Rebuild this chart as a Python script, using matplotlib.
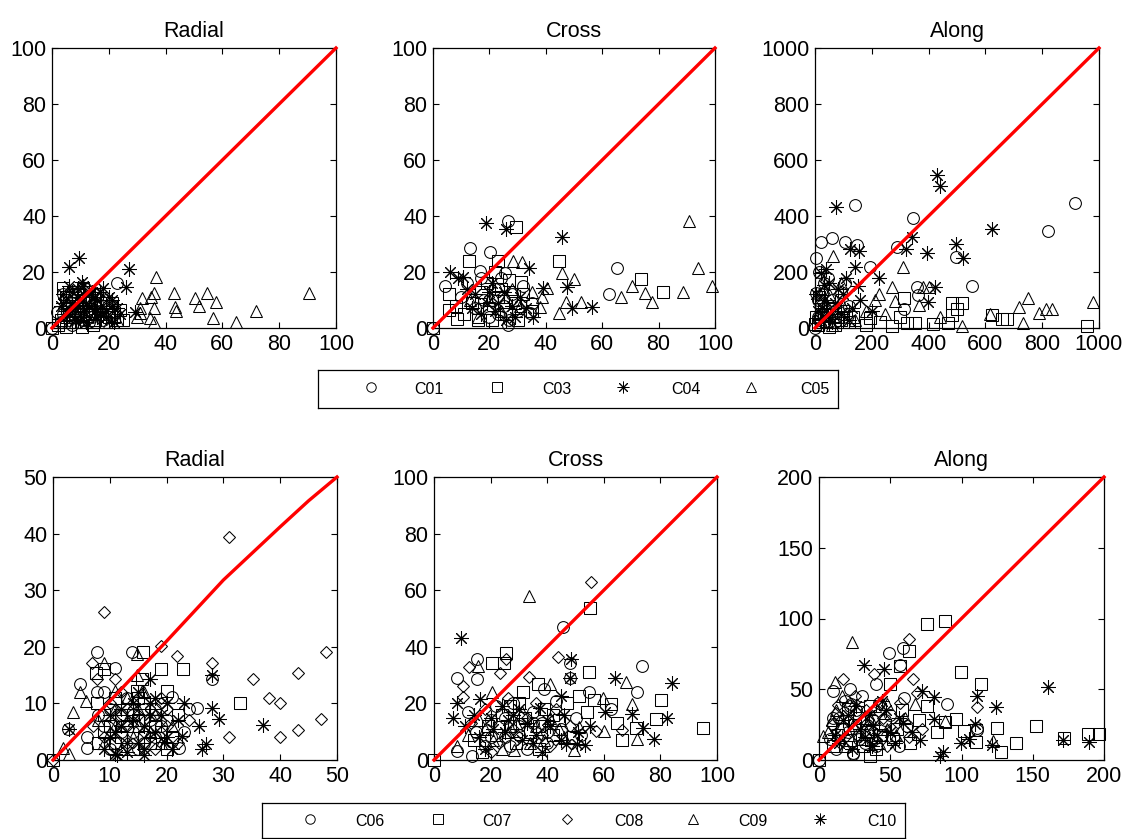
import matplotlib
matplotlib.use('Agg')
import matplotlib.pyplot as plt

plt.rcParams['font.family'] = ['Liberation Sans', 'DejaVu Sans']

W, H = 1131, 839

# ---- top row: C01, C03, C04, C05 ----
# Radial
tl_c01_x = [0, 1.6, 22.8, 5, 7, 9, 11, 12, 14, 16, 18, 20, 8, 3, 6, 10, 13, 15, 17, 21, 4,
            4, 6, 8, 10, 12, 14, 16, 19, 11, 7]
tl_c01_y = [0, 5.8, 16.2, 10, 4, 7, 3, 11, 6, 9, 3, 5, 13, 2, 8, 9, 2, 12, 6, 8, 5,
            12, 3, 10, 5, 14, 4, 7, 10, 7, 1]
tl_c03_x = [0, 4, 5, 10.5, 14.4, 24, 22, 3, 6, 8, 9, 12, 15, 17, 19, 11, 7, 13, 20, 16, 18, 23, 2,
            5, 7, 9, 11, 13, 15, 17, 21, 25, 6]
tl_c03_y = [0, 14.2, 0.3, 0.5, 1, 6.4, 4, 3, 9, 4, 12, 6, 3, 8, 2, 10, 7, 11, 4, 12, 9, 3, 1,
            11, 2, 6, 14, 5, 9, 5, 9, 3, 5]
tl_c04_x = [6.1, 9.4, 27.2, 26, 10.4, 18, 29.2, 3, 5, 7, 8, 9, 11, 12, 13, 15, 16, 19, 21, 6, 4, 14, 10, 20, 22, 17, 24,
            5, 7, 9, 11, 13, 15, 17, 19, 21, 23, 8, 12, 16, 4, 6]
tl_c04_y = [21.7, 24.9, 21, 14.8, 16.5, 14.2, 5.8, 8, 10, 13, 7, 11, 15, 9, 12, 6, 10, 4, 8, 5, 12, 13, 3, 11, 2, 7, 5,
            6, 9, 14, 6, 8, 11, 13, 6, 10, 7, 3, 2, 4, 9, 15]
tl_c05_x = [36.6, 35.9, 43, 54.5, 90.4, 31.6, 35, 50.5, 57.7, 51.9, 43.2, 35.9, 31, 43.7, 71.8, 31, 29.8,
            34.5, 56.6, 64.8, 35.9, 5, 8, 12, 15, 18, 20, 23, 10, 6, 14]
tl_c05_y = [18.3, 12.6, 12.6, 12.6, 12.6, 10.6, 11.2, 10.6, 9.4, 7.9, 7.4, 7, 7, 6.1, 6.1, 5.2, 3.8,
            3.5, 3.5, 2, 2, 4, 2, 5, 3, 6, 2, 3, 8, 6, 9]

# Cross
tm_c01_x = [26.7, 13.1, 20.2, 65.4, 62.4, 25.5, 4.3, 16.5, 34.4, 26.7, 18, 22, 25, 28, 30, 15, 12, 20, 32, 24, 35, 10, 0,
            17, 23, 27, 21]
tm_c01_y = [38.3, 28.5, 27.3, 21.3, 12.1, 19.5, 15, 20.4, 5.2, 1.1, 10, 14, 8, 12, 6, 7, 16, 4, 15, 18, 9, 11, 0,
            18, 5, 3, 10]
tm_c03_x = [29.4, 12.8, 44.8, 22.9, 73.6, 81.4, 5.8, 31.2, 5.8, 8.6, 0, 14, 17, 20, 23, 26, 29, 19, 32, 11, 8, 24, 27, 21,
            16, 22, 30, 35]
tm_c03_y = [36.2, 23.9, 23.9, 23.9, 17.4, 13, 12.1, 16.5, 6.4, 3.1, 0, 9, 13, 7, 11, 5, 9, 16, 12, 5, 8, 14, 17, 3,
            3, 20, 3, 6]
tm_c04_x = [18.8, 26, 45.6, 34, 38.9, 47.6, 6, 10.8, 49.3, 56.3, 35.5, 15, 19, 22, 25, 28, 31, 17, 12, 9, 26, 33, 21,
            14, 23, 29, 20]
tm_c04_y = [37.4, 35.3, 32.6, 21.3, 14.2, 14.5, 20.1, 18.3, 7, 7.4, 4, 12, 9, 6, 13, 8, 11, 5, 14, 18, 3, 7, 16,
            7, 9, 4, 13]
tm_c05_x = [90.7, 93.9, 98.9, 88.5, 70.6, 75, 77.7, 66.7, 28.5, 31.4, 45.6, 50, 40.3, 38.5, 47, 52.6, 44.6, 38,
            20, 24, 28, 16, 31, 26, 35, 13]
tm_c05_y = [38.3, 21.3, 15, 13, 15, 12.4, 9.4, 11, 23.9, 23.5, 19.5, 17.4, 14.2, 11.2, 9.4, 9.4, 5.5, 7.6,
            10, 6, 14, 4, 8, 11, 13, 10]

# Along
tr_c01_x = [915, 822, 141, 346, 20, 59, 106, 149, 288, 497, 194, 106, 552, 359, 363, 5, 313,
            10, 20, 30, 15, 40, 60, 80, 50, 5, 25, 90, 120, 0, 10, 35, 45, 70, 100, 15]
tr_c01_y = [445, 348, 439, 392, 308, 320, 308, 296, 288, 252, 217, 162, 150, 145, 118, 125, 67,
            40, 80, 160, 200, 50, 100, 60, 20, 250, 120, 130, 80, 0, 100, 60, 180, 20, 40, 30]
tr_c03_x = [313, 481, 516, 499, 481, 623, 658, 676, 957, 417, 470, 271, 323, 352, 299, 194, 135, 82, 0,
            10, 30, 60, 90, 15, 120, 50, 180, 230, 20, 40, 70, 100, 5]
tr_c03_y = [106, 90, 90, 67, 46, 46, 31, 31, 7, 14, 19, 7, 17, 19, 40, 35, 40, 40, 14,
            10, 50, 70, 30, 110, 20, 5, 10, 20, 80, 25, 10, 60, 40]
tr_c04_x = [428, 441, 74, 623, 496, 522, 393, 320, 341, 123, 155, 20, 141, 224, 423, 399, 32,
            10, 30, 50, 70, 100, 130, 20, 40, 90, 110, 160, 200, 60, 5, 25, 45, 80, 120, 150]
tr_c04_y = [546, 507, 432, 354, 300, 249, 269, 281, 324, 281, 276, 197, 217, 178, 145, 94, 152,
            60, 100, 160, 90, 120, 70, 30, 210, 50, 180, 100, 60, 20, 120, 70, 40, 140, 30, 150]
tr_c05_x = [65, 311, 270, 381, 403, 224, 282, 367, 751, 720, 789, 815, 836, 980, 731, 517, 616, 246, 440,
            20, 40, 70, 100, 140, 180, 210, 30, 10, 50, 60, 90]
tr_c05_y = [257, 217, 147, 147, 147, 121, 98, 82, 106, 74, 55, 67, 67, 92, 19, 7, 50, 50, 40,
            20, 90, 40, 80, 30, 60, 100, 140, 50, 120, 10, 160]

# ---- bottom row: C06, C07, C08, C09, C10 ----
# Radial
bl_c06_x = [7.7, 13.9, 10.9, 4.8, 28, 7.7, 9, 25.3, 21, 2.7, 5.9, 22.1,
            9, 11, 12, 14, 16, 18, 20, 13, 10, 15, 17, 6, 23, 24, 8, 10, 12, 14, 16, 18, 19]
bl_c06_y = [19.1, 19.1, 16.3, 13.4, 14.3, 12, 12, 9.1, 11.2, 5.5, 2.2, 2.2,
            6, 3, 8, 5, 9, 4, 7, 11, 9, 2, 7, 4, 5, 9, 8, 2, 5, 8, 3, 9, 6]
bl_c07_x = [15.8, 19, 22.9, 32.9, 8.9, 7.6, 15.7, 20, 14.8, 7.7,
            8, 10, 12, 13, 15, 17, 19, 11, 14, 16, 18, 21, 9, 22, 0, 9, 11, 13, 14, 16, 18, 20, 12, 15]
bl_c07_y = [19.1, 16.1, 16.1, 10.1, 16.1, 15.4, 14.3, 12.2, 12.2, 10.1,
            3, 6, 4, 9, 7, 3, 5, 11, 2, 10, 8, 4, 8, 8, 0, 5, 3, 6, 8, 4, 6, 2, 8, 11]
bl_c08_x = [31, 9, 19, 48, 21.9, 28, 43.2, 6.8, 10.9, 35.2, 38, 40, 47.2, 43.2, 40, 31, 19, 20, 7.7, 0,
            9, 11, 13, 14, 16, 18, 20, 12, 7, 22, 24, 10, 13, 15, 17, 19]
bl_c08_y = [39.4, 26.1, 20.1, 19.1, 18.3, 17.2, 15.3, 17.2, 14.3, 14.3, 11, 10.1, 7.2, 5.3, 4, 4, 10.1, 6, 14.3, 0,
            4, 7, 3, 10, 5, 2, 9, 12, 6, 3, 7, 10, 6, 8, 4, 11]
bl_c09_x = [14.8, 8.9, 4.8, 5.8, 3.6, 1.8, 2.9, 10.9, 15.7, 14.8,
            10, 12, 13, 15, 17, 19, 11, 16, 8, 21, 14, 9, 11, 13, 15, 18]
bl_c09_y = [18.8, 17.2, 12, 10.4, 8.4, 2.2, 1, 12.2, 12.2, 15.1,
            5, 2, 7, 9, 5, 3, 9, 12, 7, 6, 4, 3, 6, 11, 6, 8]
bl_c10_x = [17.1, 28, 28, 29.2, 37, 26.9, 26.3, 25.7, 23, 2.9, 22.7, 19.5, 11.2, 16,
            9, 11, 12, 14, 15, 16, 18, 19, 20, 13, 10, 17, 21, 22, 10, 12, 13, 14, 16, 17, 18, 20, 15, 11]
bl_c10_y = [14.3, 15.1, 9.1, 7.2, 6.2, 2.8, 1.9, 6, 10.1, 5.5, 4.3, 3.1, 0.8, 0.8,
            2, 5, 9, 7, 3, 6, 11, 8, 4, 1.5, 8, 10, 2, 7, 4, 6, 3, 10, 2, 8, 5, 10, 12, 1]

# Cross
bm_c06_x = [45.6, 73.6, 71.6, 15.1, 15.1, 8.2, 54.7, 39, 8, 13.4, 48, 48, 62.4,
            15, 20, 25, 30, 35, 40, 45, 50, 18, 28, 38, 22, 33, 43, 52, 12, 25, 30, 35, 40, 20, 27]
bm_c06_y = [47, 33.2, 24.1, 35.8, 28.5, 28.8, 24.1, 25.2, 3.3, 1.5, 28.8, 34.4, 18,
            10, 14, 8, 12, 17, 6, 11, 15, 5, 20, 13, 19, 4, 21, 9, 17, 15, 9, 13, 10, 8, 5]
bm_c07_x = [55.1, 25.5, 20.5, 24.6, 54.7, 36.6, 80.1, 94.9, 78.4, 66.6, 64.5, 62.4, 56.5, 51.2, 31.4, 71.3, 0,
            14, 19, 24, 29, 34, 39, 44, 49, 27, 37, 47, 17, 32, 54, 42, 22, 27, 37, 42, 30]
bm_c07_y = [53.7, 37.7, 34.4, 34.4, 31.1, 26.8, 21.2, 11.2, 14.4, 7.1, 13.2, 19.7, 21.2, 22.7, 24.1, 11.2, 0,
            7, 12, 16, 6, 10, 18, 14, 8, 19, 4, 20, 3, 15, 17, 9, 9, 12, 12, 16, 20]
bm_c08_x = [55.6, 43.7, 12.2, 33.4, 10.2, 10.2, 23.4, 25.5, 66.6, 57.4,
            13, 18, 23, 28, 33, 38, 43, 48, 26, 20, 36, 41, 30]
bm_c08_y = [62.8, 36.5, 33, 29.5, 26, 22.4, 30.6, 35.8, 10.7, 10.3,
            13, 18, 6, 11, 15, 9, 18, 12, 22, 3, 20, 5, 8]
bm_c09_x = [33.4, 67.7, 69.8, 71.6, 59.8, 20.5, 28.1, 49.6, 51.2, 60, 15.7, 41.1,
            8, 12, 16, 21, 26, 31, 36, 41, 46, 24, 34, 44, 18, 29, 39]
bm_c09_y = [57.9, 27.6, 19.7, 7.4, 22, 24.1, 3.6, 3.6, 11.5, 10.3, 33.2, 26.8,
            5, 9, 14, 7, 10, 17, 12, 15, 8, 4, 6, 11, 11, 13, 7]
bm_c10_x = [9.5, 48.5, 48.2, 63.8, 84.2, 82.3, 77.8, 74, 69.8, 53.5, 50.6, 8.3, 6.6, 16.3, 37.6, 44.7, 60.6, 46.5,
            11, 16, 21, 26, 31, 36, 41, 46, 51, 18, 28, 38, 24, 33, 55, 14, 20, 25, 30, 35, 40, 45]
bm_c10_y = [43.2, 35.8, 29.1, 29.1, 27.1, 15, 7.4, 11.2, 16.2, 5.3, 5.6, 20.3, 15, 21.7, 18.2, 22.7, 16.8, 5.6,
            12, 8, 11, 14, 7, 9, 12, 16, 10, 4, 16, 3, 19, 13, 12, 16, 15, 10, 18, 6, 14, 7]

# Along
br_c06_x = [48.8, 59, 56.7, 10.1, 21.8, 59.4, 89.9, 111.1, 111, 22.3, 40.1, 10.1, 24.2,
            8, 14, 20, 26, 32, 38, 44, 50, 56, 62, 18, 30, 12, 24, 42, 0, 10, 16, 22, 28, 34, 40, 46]
br_c06_y = [75.4, 79.4, 66.9, 48.8, 50.5, 43.5, 39.4, 22.3, 21, 39.4, 53.5, 25.4, 4.2,
            15, 30, 20, 35, 12, 28, 18, 32, 10, 24, 42, 45, 8, 5, 40, 0, 30, 22, 38, 15, 25, 10, 28]
br_c07_x = [75.8, 88.7, 62.9, 99.3, 113.4, 125.1, 138, 152.1, 172.1, 189, 196.7, 127.5, 57, 49.5, 75.8, 95.8,
            101.6, 109.9, 35.9, 88.7, 82.9, 0,
            10, 16, 22, 28, 34, 40, 46, 52, 58, 64, 70, 36, 20, 13, 25, 31, 43, 55]
br_c07_y = [95.8, 98.1, 77, 62.2, 53.5, 22.3, 12, 23.7, 15.9, 18.3, 18.3, 5.8, 66.4, 53.5, 38.2, 28.9,
            20.6, 12.5, 3, 27, 19.5, 0,
            10, 22, 14, 30, 20, 8, 25, 15, 35, 12, 28, 38, 36, 18, 25, 10, 18, 22]
br_c08_x = [62.9, 16.7, 38.7, 66, 110.6, 13.6, 68.8, 72.4,
            9, 15, 21, 27, 33, 39, 45, 51, 57, 63, 25, 48, 12, 18, 30, 36, 42]
br_c08_y = [85.7, 57.5, 60.6, 57.5, 37.8, 38.7, 47.2, 21.8,
            25, 12, 28, 18, 35, 14, 30, 22, 40, 16, 45, 10, 33, 16, 28, 22, 34]
br_c09_x = [23, 11.3, 67.6, 122.3, 3, 88.7, 47.7,
            6, 12, 18, 24, 30, 36, 42, 48, 54, 60, 16, 9, 21, 33, 39]
br_c09_y = [83.3, 55.1, 39.4, 13.6, 17.1, 27.7, 39.4,
            20, 35, 10, 25, 15, 30, 12, 22, 18, 30, 45, 28, 18, 20, 38]
br_c10_x = [31.3, 45.3, 160.8, 110.6, 123.9, 81, 72.3, 109.2, 171, 189.7, 87.1, 85.2, 121.6, 105.1, 99.3, 80.5,
            11, 17, 23, 29, 35, 41, 47, 53, 59, 65, 71, 37, 26, 44, 14, 20, 32, 38, 50, 56]
br_c10_y = [66.9, 64.1, 51.9, 45.3, 37.8, 44.2, 48.8, 25.4, 14.3, 12.9, 5.8, 3, 10.6, 14.8, 12, 28.9,
            18, 28, 8, 22, 32, 18, 35, 12, 26, 20, 14, 10, 38, 42, 12, 32, 16, 25, 20, 30]

# reference lines (y = x); the bottom radial one bends slightly
diag_100 = [0, 100]
diag_1000 = [0, 1000]
diag_200 = [0, 200]
bl_ref_x = [0, 10, 20, 30, 40, 45, 50]
bl_ref_y = [0, 10.4, 21, 31.8, 41.2, 45.8, 50]

STAR = (8, 2, 0)
mk = {'o': dict(marker='o', ms=8.5), 's': dict(marker='s', ms=8.5), '*': dict(marker=STAR, ms=10.5),
      '^': dict(marker='^', ms=8.5), 'D': dict(marker='D', ms=6.3)}


def px_axes(fig, x0, x1, y0, y1):
    return fig.add_axes([x0 / W, 1 - y1 / H, (x1 - x0) / W, (y1 - y0) / H])


def panel(ax, title, lim, step, series, ref_x, ref_y):
    for xs, ys, m in series:
        ax.plot(xs, ys, linestyle='none', mfc='none', mec='black', mew=0.75, clip_on=False, **mk[m])
    ax.plot(ref_x, ref_y, color='red', lw=2.4, zorder=5, clip_on=False, solid_joinstyle='round')
    ax.set_xlim(0, lim)
    ax.set_ylim(0, lim)
    ticks = list(range(0, lim + 1, step))
    ax.set_xticks(ticks)
    ax.set_yticks(ticks)
    ax.tick_params(direction='in', top=True, right=True, length=4, width=0.8, labelsize=15.5, pad=4)
    for s in ax.spines.values():
        s.set_linewidth(0.9)
    ax.set_title(title, fontsize=15.5, pad=8)


fig = plt.figure(figsize=(W / 100, H / 100), dpi=100)

ax = px_axes(fig, 52, 336, 48, 328)
panel(ax, 'Radial', 100, 20, [(tl_c01_x, tl_c01_y, 'o'), (tl_c03_x, tl_c03_y, 's'),
                              (tl_c04_x, tl_c04_y, '*'), (tl_c05_x, tl_c05_y, '^')], diag_100, diag_100)
ax = px_axes(fig, 433, 715, 48, 328)
panel(ax, 'Cross', 100, 20, [(tm_c01_x, tm_c01_y, 'o'), (tm_c03_x, tm_c03_y, 's'),
                             (tm_c04_x, tm_c04_y, '*'), (tm_c05_x, tm_c05_y, '^')], diag_100, diag_100)
ax = px_axes(fig, 815, 1099, 48, 328)
panel(ax, 'Along', 1000, 200, [(tr_c01_x, tr_c01_y, 'o'), (tr_c03_x, tr_c03_y, 's'),
                               (tr_c04_x, tr_c04_y, '*'), (tr_c05_x, tr_c05_y, '^')], diag_1000, diag_1000)

ax = px_axes(fig, 53, 337, 477, 760)
panel(ax, 'Radial', 50, 10, [(bl_c06_x, bl_c06_y, 'o'), (bl_c07_x, bl_c07_y, 's'), (bl_c08_x, bl_c08_y, 'D'),
                             (bl_c09_x, bl_c09_y, '^'), (bl_c10_x, bl_c10_y, '*')], bl_ref_x, bl_ref_y)
ax = px_axes(fig, 434, 717, 477, 760)
panel(ax, 'Cross', 100, 20, [(bm_c06_x, bm_c06_y, 'o'), (bm_c07_x, bm_c07_y, 's'), (bm_c08_x, bm_c08_y, 'D'),
                             (bm_c09_x, bm_c09_y, '^'), (bm_c10_x, bm_c10_y, '*')], diag_100, diag_100)
ax = px_axes(fig, 819, 1104, 477, 760)
panel(ax, 'Along', 200, 50, [(br_c06_x, br_c06_y, 'o'), (br_c07_x, br_c07_y, 's'), (br_c08_x, br_c08_y, 'D'),
                             (br_c09_x, br_c09_y, '^'), (br_c10_x, br_c10_y, '*')], diag_200, diag_200)


# legends drawn as small boxed axes, MATLAB style
def legend_box(x0, x1, y0, y1, labels, markers, mpos, tpos):
    lg = px_axes(fig, x0, x1, y0, y1)
    lg.set_xlim(0, 1)
    lg.set_ylim(0, 1)
    lg.set_xticks([])
    lg.set_yticks([])
    for s in lg.spines.values():
        s.set_linewidth(0.9)
    for lab, m, xm, xt in zip(labels, markers, mpos, tpos):
        st = dict(mk[m])
        st['ms'] = st['ms'] * 0.8
        lg.plot([xm], [0.55], linestyle='none', mfc='none', mec='black', mew=0.7, **st)
        lg.text(xt, 0.48, lab, ha='center', va='center', fontsize=11.5)


legend_box(318, 838, 370, 408, ['C01', 'C03', 'C04', 'C05'], ['o', 's', '*', '^'],
           [0.101, 0.344, 0.587, 0.833], [0.214, 0.460, 0.707, 0.956])
legend_box(262, 905, 803, 838, ['C06', 'C07', 'C08', 'C09', 'C10'], ['o', 's', 'D', '^', '*'],
           [0.075, 0.273, 0.474, 0.671, 0.868], [0.168, 0.365, 0.570, 0.764, 0.964])

fig.savefig('out.png', dpi=100)
